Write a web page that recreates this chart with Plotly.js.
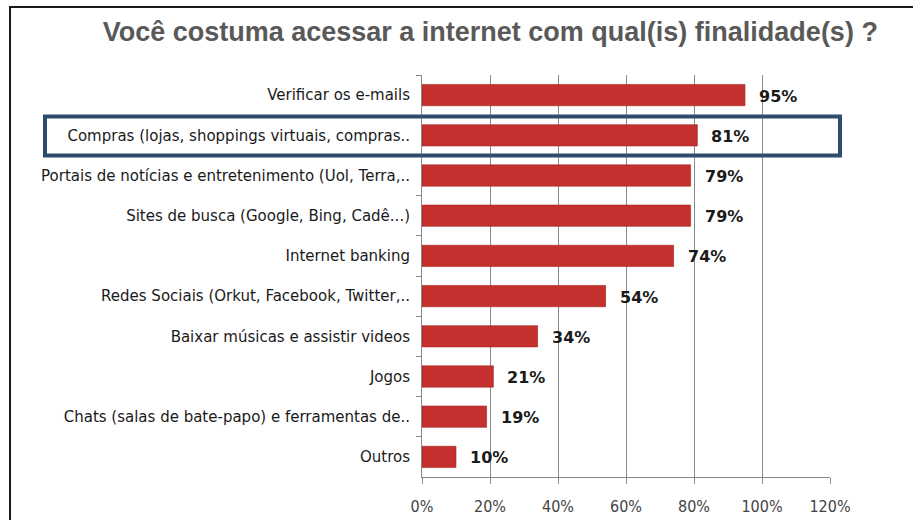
<!DOCTYPE html>
<html>
<head>
<meta charset="utf-8">
<script src="https://cdn.plot.ly/plotly-3.0.1.min.js"></script>
<style>
  html, body { margin: 0; padding: 0; background: #fff; }
  #wrap { position: relative; width: 913px; height: 520px; }
  #chart { width: 913px; height: 520px; }
  #frame { position: absolute; left: 9px; top: 6px; right: -5px; bottom: -5px;
           border-left: 2px solid #1a1a1a; border-top: 2px solid #1a1a1a; pointer-events: none; }
</style>
</head>
<body>
<div id="wrap">
  <div id="chart"></div>
  <div id="frame"></div>
</div>
<script>
const categories = [
  "Verificar os e-mails",
  "Compras (lojas, shoppings virtuais, compras..",
  "Portais de notícias e entretenimento (Uol, Terra,..",
  "Sites de busca (Google, Bing, Cadê...)",
  "Internet banking",
  "Redes Sociais (Orkut, Facebook, Twitter,..",
  "Baixar músicas e assistir videos",
  "Jogos",
  "Chats (salas de bate-papo) e ferramentas de..",
  "Outros"
];
const values = [95, 81, 79, 79, 74, 54, 34, 21, 19, 10];
const valueLabels = ["95%", "81%", "79%", "79%", "74%", "54%", "34%", "21%", "19%", "10%"];
const tickValues = [0, 20, 40, 60, 80, 100, 120];
const tickLabels = ["0%", "20%", "40%", "60%", "80%", "100%", "120%"];
const highlighted = "Compras (lojas, shoppings virtuais, compras..";

const hiIdx = categories.indexOf(highlighted);

const trace = {
  type: "bar",
  orientation: "h",
  x: values,
  y: categories,
  width: 0.53,
  marker: { color: "#C3302E", line: { color: "#A52321", width: 0.6 } },
  hoverinfo: "skip"
};

const annotations = values.map((v, i) => ({
  x: v, y: categories[i], xref: "x", yref: "y",
  text: "<b>" + valueLabels[i] + "</b>",
  showarrow: false, xanchor: "left", xshift: 12, yshift: -1,
  font: { family: "DejaVu Sans, Verdana, sans-serif", size: 16, color: "#1a1a1a" }
}));

const layout = {
  width: 913, height: 520,
  margin: { l: 422, r: 83, t: 75, b: 43, pad: 0 },
  paper_bgcolor: "#ffffff",
  plot_bgcolor: "#ffffff",
  showlegend: false,
  title: {
    text: "<b>Você costuma acessar a internet com qual(is) finalidade(s) ?</b>",
    font: { family: "Liberation Sans, Arial, sans-serif", size: 27, color: "#595959" },
    x: 0.537, xanchor: "center", y: 0.94, yanchor: "middle"
  },
  xaxis: {
    range: [0, 120],
    tickvals: tickValues,
    ticktext: tickLabels,
    showgrid: true, gridcolor: "#8a8a8a", gridwidth: 1,
    zeroline: false,
    showline: true, linecolor: "#8a8a8a", linewidth: 1,
    ticks: "outside", ticklen: 6, tickcolor: "#8a8a8a",
    ticklabelstandoff: 9,
    tickfont: { family: "DejaVu Sans Condensed, DejaVu Sans, sans-serif", size: 16, color: "#444" },
    fixedrange: true
  },
  yaxis: {
    autorange: "reversed",
    type: "category",
    showline: true, linecolor: "#8a8a8a", linewidth: 1,
    ticks: "outside", ticklen: 5, tickcolor: "#8a8a8a",
    tickson: "boundaries",
    ticklabelstandoff: 8,
    showgrid: false,
    tickfont: { family: "DejaVu Sans, Verdana, sans-serif", size: 15, color: "#1a1a1a" },
    fixedrange: true
  },
  shapes: [{
    type: "rect", xref: "paper", yref: "y",
    x0: -0.924, x1: 1.0245, y0: hiIdx - 0.47, y1: hiIdx + 0.5,
    line: { color: "#2E4D6E", width: 4 },
    fillcolor: "rgba(0,0,0,0)"
  }],
  annotations: annotations,
  bargap: 0.47
};

Plotly.newPlot("chart", [trace], layout, { displayModeBar: false, staticPlot: true });
</script>
</body>
</html>
